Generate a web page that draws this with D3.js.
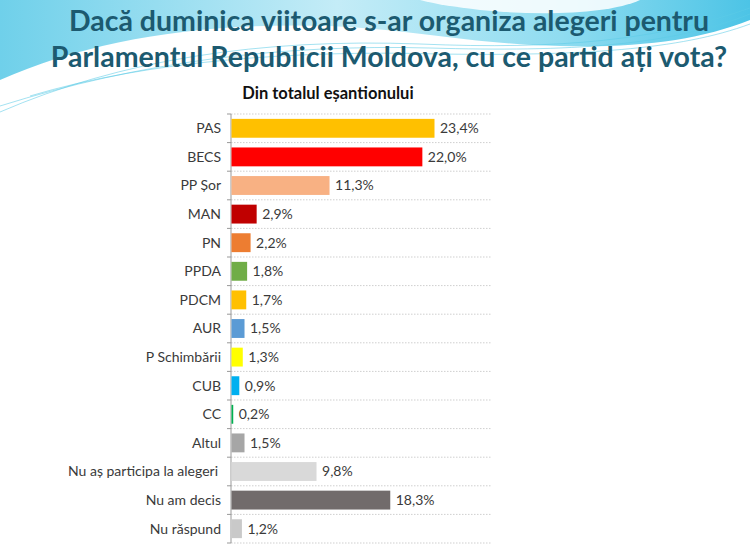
<!DOCTYPE html>
<html>
<head>
<meta charset="utf-8">
<script src="https://cdn.jsdelivr.net/npm/d3@7"></script>
<style>
  body { margin: 0; background: #fff; }
  svg { display: block; }
</style>
</head>
<body>
<div id="chart-area"></div>
<script>
// values
var parties = ["PAS", "BECS", "PP Șor", "MAN", "PN", "PPDA", "PDCM", "AUR",
  "P Schimbării", "CUB", "CC", "Altul", "Nu aș participa la alegeri", "Nu am decis", "Nu răspund"];
var shares = [23.4, 22.0, 11.3, 2.9, 2.2, 1.8, 1.7, 1.5, 1.3, 0.9, 0.2, 1.5, 9.8, 18.3, 1.2];
var barColors = ["#ffc000", "#ff0000", "#f8b183", "#c00000", "#ed7d31", "#70ad47", "#ffc000", "#5b9bd5",
  "#ffff00", "#00b0f0", "#00b050", "#a6a6a6", "#d9d9d9", "#716b6b", "#c9c9c9"];
var titleLines = ["Dacă duminica viitoare s-ar organiza alegeri pentru",
  "Parlamentul Republicii Moldova, cu ce partid ați vota?"];
var subtitle = "Din totalul eșantionului";

var width = 750, height = 547;

var svg = d3.select("#chart-area").append("svg")
    .attr("width", width)
    .attr("height", height);

// background swoosh
var defs = svg.append("defs");
var grad = defs.append("linearGradient")
    .attr("id", "sky")
    .attr("x1", "0").attr("y1", "0")
    .attr("x2", "1").attr("y2", "0");
grad.append("stop").attr("offset", "0%").attr("stop-color", "#6fd0ea");
grad.append("stop").attr("offset", "45%").attr("stop-color", "#c4ecf7");
grad.append("stop").attr("offset", "75%").attr("stop-color", "#8fdcf0");
grad.append("stop").attr("offset", "100%").attr("stop-color", "#4cc4e6");

svg.append("path")
    .attr("d", "M0,0 L750,0 L750,20 C700,40 640,48 560,46 C470,44 420,30 330,26 C200,22 90,40 0,80 Z")
    .attr("fill", "url(#sky)");

svg.append("path")
    .attr("d", "M420,0 L640,0 C610,14 540,16 480,10 C455,7 435,4 420,0 Z")
    .attr("fill", "#ffffff")
    .attr("opacity", 0.85);

var swirls = [
  "M0,112 C120,60 260,38 420,44 C560,50 660,40 750,8",
  "M0,106 C140,62 280,44 430,48 C570,52 670,46 750,14",
  "M30,96 C150,60 300,50 440,54 C580,56 680,50 750,24"
];
svg.selectAll(".swirl")
  .data(swirls)
  .enter().append("path")
    .attr("class", "swirl")
    .attr("d", d => d)
    .attr("fill", "none")
    .attr("stroke", "#5ccbe6")
    .attr("stroke-width", 0.8)
    .attr("opacity", 0.7);

// title
svg.selectAll(".title")
  .data(titleLines)
  .enter().append("text")
    .attr("class", "title")
    .attr("x", 389)
    .attr("y", (d, i) => 31 + i * 36)
    .attr("text-anchor", "middle")
    .attr("font-family", "Lato, 'Open Sans', sans-serif")
    .attr("font-weight", "bold")
    .attr("font-size", 28.5)
    .attr("fill", "#1c5a70")
    .text(d => d);

svg.append("text")
    .attr("x", 328)
    .attr("y", 99)
    .attr("text-anchor", "middle")
    .attr("font-family", "Lato, sans-serif")
    .attr("font-weight", "bold")
    .attr("font-size", 16.5)
    .attr("fill", "#111")
    .text(subtitle);

// chart
var plotLeft = 231, plotTop = 114, plotBottom = 543;

var x = d3.scaleLinear()
    .domain([0, 23.4])
    .range([plotLeft, 434]);

var y = d3.scaleBand()
    .domain(parties)
    .range([plotTop, plotBottom])
    .paddingInner(0.34)
    .paddingOuter(0.17);

var step = y.step();
var bounds = d3.range(parties.length + 1).map(i => plotTop + i * step);

// dotted separators
svg.selectAll(".grid")
  .data(bounds)
  .enter().append("line")
    .attr("class", "grid")
    .attr("x1", plotLeft)
    .attr("x2", 492)
    .attr("y1", d => d)
    .attr("y2", d => d)
    .attr("stroke", "#cfcfcf")
    .attr("stroke-width", 1)
    .attr("stroke-dasharray", "1.5,1.5");

// axis line with ticks at category borders
svg.append("line")
    .attr("x1", plotLeft).attr("x2", plotLeft)
    .attr("y1", plotTop).attr("y2", plotBottom)
    .attr("stroke", "#999")
    .attr("stroke-width", 1);

svg.selectAll(".tick-mark")
  .data(bounds)
  .enter().append("line")
    .attr("class", "tick-mark")
    .attr("x1", plotLeft - 4)
    .attr("x2", plotLeft)
    .attr("y1", d => d)
    .attr("y2", d => d)
    .attr("stroke", "#999");

svg.selectAll(".bar")
  .data(shares)
  .enter().append("rect")
    .attr("class", "bar")
    .attr("x", plotLeft + 0.5)
    .attr("y", (d, i) => y(parties[i]))
    .attr("width", d => x(d) - plotLeft)
    .attr("height", y.bandwidth())
    .attr("fill", (d, i) => barColors[i]);

svg.selectAll(".cat")
  .data(parties)
  .enter().append("text")
    .attr("class", "cat")
    .attr("x", (d, i) => i === 12 ? 218 : 221)
    .attr("y", d => y(d) + y.bandwidth() / 2)
    .attr("dy", "0.35em")
    .attr("text-anchor", "end")
    .attr("font-family", "Lato, sans-serif")
    .attr("font-size", 14)
    .attr("fill", "#3a3a3a")
    .text(d => d);

svg.selectAll(".val")
  .data(shares)
  .enter().append("text")
    .attr("class", "val")
    .attr("x", d => x(d) + 6)
    .attr("y", (d, i) => y(parties[i]) + y.bandwidth() / 2)
    .attr("dy", "0.35em")
    .attr("font-family", "Lato, sans-serif")
    .attr("font-size", 14)
    .attr("fill", "#3a3a3a")
    .text(d => d.toFixed(1).replace(".", ",") + "%");
</script>
</body>
</html>
